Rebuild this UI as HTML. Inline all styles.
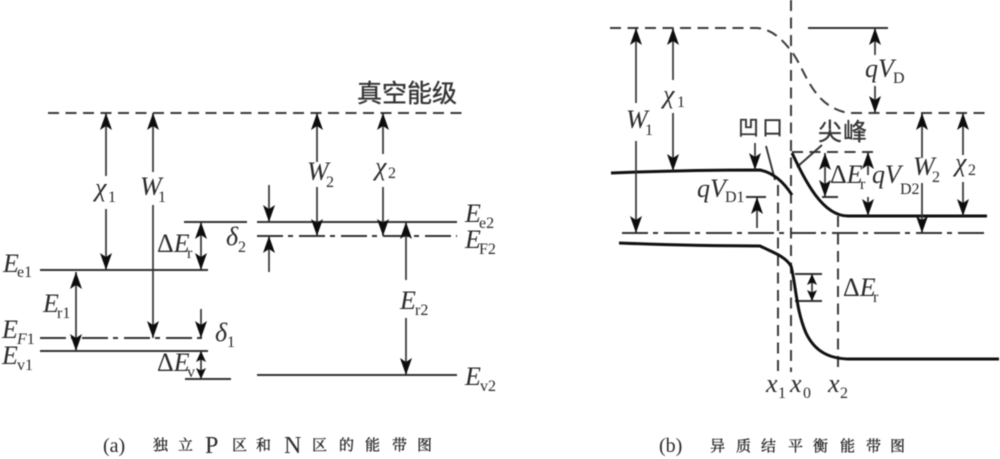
<!DOCTYPE html>
<html><head><meta charset="utf-8"><style>
html,body{margin:0;padding:0;background:#fff;width:1000px;height:459px;overflow:hidden}
svg{display:block;filter:blur(.45px)}
.l{stroke:#333;stroke-width:1.9;fill:none}
.t{stroke:#111;stroke-width:3;fill:none}
.d{stroke:#3a3a3a;stroke-width:2;fill:none;stroke-dasharray:11 6.5}
.dd{stroke:#333;stroke-width:1.9;fill:none;stroke-dasharray:26 5 5 6}
.a{stroke:#333;stroke-width:1.7;fill:none;marker-end:url(#h)}
.b{stroke:#333;stroke-width:1.7;fill:none;marker-start:url(#s);marker-end:url(#h)}
.m{stroke:#333;stroke-width:1.7;fill:none;marker-start:url(#s2);marker-end:url(#h2)}
text{font-family:"Liberation Serif","Noto Serif CJK SC",serif;fill:#2a2a2a}
.e{font-size:26px;font-style:italic}
.s{font-size:16px;font-style:normal}
.g{font-size:26px;font-style:italic}
.c{font-family:"Liberation Sans","Noto Sans CJK SC",sans-serif;fill:#333;stroke:#333;stroke-width:.35}
.cp{font-size:15px;font-family:"Noto Serif CJK SC",serif;fill:#222;stroke:#222;stroke-width:.3}
</style></head><body>
<svg width="1000" height="459" viewBox="0 0 1000 459" xmlns="http://www.w3.org/2000/svg">
<defs>
<marker id="h" markerUnits="userSpaceOnUse" markerWidth="20" markerHeight="14" refX="18" refY="7" orient="auto"><path d="M1 1 L5 7 L1 13 L18 7Z" fill="#0d0d0d"/></marker>
<marker id="s" markerUnits="userSpaceOnUse" markerWidth="20" markerHeight="14" refX="1" refY="7" orient="auto"><path d="M1 7 L18 1 L14 7 L18 13Z" fill="#0d0d0d"/></marker>
<marker id="h2" markerUnits="userSpaceOnUse" markerWidth="14" markerHeight="12" refX="12" refY="6" orient="auto"><path d="M1 1 L3.5 6 L1 11 L12 6Z" fill="#0d0d0d"/></marker>
<marker id="s2" markerUnits="userSpaceOnUse" markerWidth="14" markerHeight="12" refX="1" refY="6" orient="auto"><path d="M1 6 L12 1 L9.5 6 L12 11Z" fill="#0d0d0d"/></marker>
</defs>
<rect width="1000" height="459" fill="#fff"/>

<!-- LEFT -->
<path class="d" d="M48 113H462"/>
<text x="357" y="102" class="c" font-size="25" textLength="100">真空能级</text>

<path class="l" d="M40 270H208M40 351H208" />
<path class="dd" d="M40 338H208"/>
<path class="l" d="M184 222H247M185 379H231M257 222H457M257 375H457"/>
<path class="dd" d="M257 236H457"/>

<path class="a" d="M106 176V113"/>
<path class="a" d="M106 209V270"/>
<path class="a" d="M153 172V113"/>
<path class="a" d="M153 205V338"/>
<path class="b" d="M201 222V270"/>
<path class="b" d="M76 272V351"/>
<path class="a" d="M201 309V338"/>
<path class="m" d="M201 351V379"/>
<path class="a" d="M317 162V113"/>
<path class="a" d="M317 187V236"/>
<path class="a" d="M383 154V113"/>
<path class="a" d="M383 187V236"/>
<path class="a" d="M269 185V222"/>
<path class="a" d="M269 272V236"/>
<path class="a" d="M406 280V222"/>
<path class="a" d="M406 318V375"/>

<text x="95" y="196" class="g">χ<tspan class="s" x="108" y="202">1</tspan></text>
<text x="140" y="195" class="e">W<tspan class="s" x="158" y="202">1</tspan></text>
<text x="157" y="252" class="e"><tspan font-style="normal">Δ</tspan>E<tspan class="s" x="187" y="258">r</tspan></text>
<text x="226" y="245" class="e">δ<tspan class="s" x="238" y="252">2</tspan></text>
<text x="3" y="272" class="e">E<tspan class="s" x="17" y="277">e1</tspan></text>
<text x="43" y="312" class="e">E<tspan class="s" x="57" y="318">r1</tspan></text>
<text x="2" y="338" class="e">E<tspan class="s" x="17" y="344"><tspan font-style="italic">F</tspan>1</tspan></text>
<text x="2" y="364" class="e">E<tspan class="s" x="17" y="370">v1</tspan></text>
<text x="215" y="341" class="e">δ<tspan class="s" x="227" y="347">1</tspan></text>
<text x="157" y="371" class="e"><tspan font-style="normal">Δ</tspan>E<tspan class="s" x="187" y="377">v</tspan></text>
<text x="307" y="180" class="e">W<tspan class="s" x="326" y="187">2</tspan></text>
<text x="375" y="175" class="g">χ<tspan class="s" x="388" y="178">2</tspan></text>
<text x="465" y="222" class="e">E<tspan class="s" x="479" y="228">e2</tspan></text>
<text x="465" y="248" class="e">E<tspan class="s" x="479" y="254">F2</tspan></text>
<text x="400" y="309" class="e">E<tspan class="s" x="415" y="315">r2</tspan></text>
<text x="465" y="385" class="e">E<tspan class="s" x="480" y="391">v2</tspan></text>

<text x="103" y="452" font-size="20">(a)</text>
<text y="450" class="cp" x="153 178">独立</text>
<text x="205" y="453" font-size="24">P</text>
<text y="450" class="cp" x="232 256">区和</text>
<text x="284" y="453" font-size="24">N</text>
<text y="450" class="cp" x="312 339 365 392 417">区的能带图</text>

<!-- RIGHT -->
<path class="d" d="M791 0V372"/>
<path class="d" d="M778 185V372"/>
<path class="d" d="M838 216V372"/>
<path class="d" d="M610 28H757C772 29 783 40 792 52C806 71 812 106 848 113H985"/>
<path class="l" d="M808 28H888"/>
<path class="dd" d="M622 233H985"/>
<path class="d" d="M792 152H875"/>
<path class="l" d="M822 197H838M746 197H766M766 146L775 180M822 145L797 167M795 274H822M795 301H822"/>

<path class="t" d="M611 173C660 171 720 170 760 170C775 173 785 184 792 195"/>
<path class="t" d="M792 153C805 180 822 216 848 216H987"/>
<path class="t" d="M619 243C670 245 720 246 760 246C772 252 785 256 791 266C796 285 796 310 806 333C815 352 830 359 850 359H999"/>

<path class="a" d="M636 103V28"/>
<path class="a" d="M636 141V233"/>
<path class="a" d="M673 80V28"/>
<path class="a" d="M673 113V171"/>
<path class="a" d="M755 143V170"/>
<path class="a" d="M757 228V197"/>
<path class="a" d="M875 55V28"/>
<path class="a" d="M875 86V113"/>
<path class="a" d="M922 158V113"/>
<path class="a" d="M922 183V233"/>
<path class="a" d="M963 155V113"/>
<path class="a" d="M963 182V216"/>
<path class="b" d="M825 153V197"/>
<path class="a" d="M868 175V152"/>
<path class="a" d="M868 197V216"/>
<path class="m" d="M812 274V301"/>

<text x="626" y="128" class="e">W<tspan class="s" x="645" y="135">1</tspan></text>
<text x="663" y="103" class="g">χ<tspan class="s" x="677" y="107">1</tspan></text>
<text x="738" y="135" class="c" font-size="21" textLength="45">凹口</text>
<text x="818" y="140" class="c" font-size="24" textLength="49">尖峰</text>
<text x="697" y="197" class="e">qV<tspan class="s" x="725" y="202">D1</tspan></text>
<text x="830" y="183" class="e"><tspan font-style="normal">Δ</tspan>E<tspan class="s" x="860" y="189">r</tspan></text>
<text x="872" y="183" class="e">qV<tspan class="s" x="900" y="194">D2</tspan></text>
<text x="865" y="77" class="e">qV<tspan class="s" x="893" y="83">D</tspan></text>
<text x="913" y="175" class="e">W<tspan class="s" x="932" y="182">2</tspan></text>
<text x="955" y="171" class="g">χ<tspan class="s" x="968" y="175">2</tspan></text>
<text x="843" y="296" class="e"><tspan font-style="normal">Δ</tspan>E<tspan class="s" x="873" y="302">r</tspan></text>
<text x="766" y="392" class="e">x<tspan class="s" x="778" y="398">1</tspan></text>
<text x="790" y="392" class="e">x<tspan class="s" x="803" y="398">0</tspan></text>
<text x="828" y="392" class="e">x<tspan class="s" x="840" y="398">2</tspan></text>

<text x="659" y="452" font-size="20">(b)</text>
<text y="451" class="cp" x="710 736 761 788 813 840 866 890">异质结平衡能带图</text>
</svg>
</body></html>
